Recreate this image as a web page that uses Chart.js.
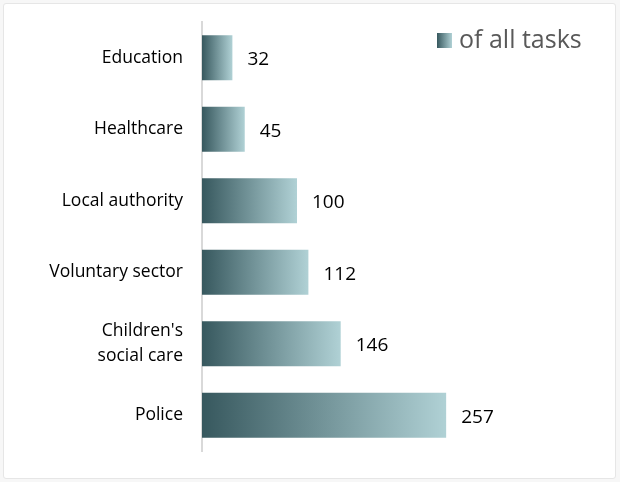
<!DOCTYPE html>
<html>
<head>
<meta charset="utf-8">
<script src="https://cdn.jsdelivr.net/npm/chart.js@4"></script>
<style>
  html, body { margin: 0; padding: 0; background: #f7f7f7; }
  .frame {
    position: absolute; left: 3px; top: 3px; width: 611px; height: 474px;
    background: #fff; border: 1px solid #e6e6e6; border-radius: 3px;
  }
  #chart { position: absolute; left: 0; top: 0; }
</style>
</head>
<body>
<div class="frame"></div>
<canvas id="chart" width="620" height="482"></canvas>
<script>
// categories and values
const categories = ['Education', 'Healthcare', 'Local authority', 'Voluntary sector', ["Children's", 'social care'], 'Police'];
const tasks = [32, 45, 100, 112, 146, 257];
const seriesName = 'of all tasks';

const darkTeal = '#37585e';
const lightTeal = '#b0d1d5';

const barGradient = (context) => {
  const chart = context.chart;
  const xScale = chart.scales.x;
  if (!xScale || !chart.chartArea) return darkTeal;
  const x0 = xScale.getPixelForValue(0);
  const x1 = xScale.getPixelForValue(context.raw);
  const g = chart.ctx.createLinearGradient(x0, 0, x1, 0);
  g.addColorStop(0, darkTeal);
  g.addColorStop(1, lightTeal);
  return g;
};

// value labels after each bar + the little legend in the corner
const extras = {
  id: 'extras',
  afterDatasetsDraw(chart) {
    const ctx = chart.ctx;
    const meta = chart.getDatasetMeta(0);
    ctx.save();
    ctx.font = '19px "Open Sans"';
    ctx.fillStyle = '#000';
    ctx.textBaseline = 'middle';
    meta.data.forEach((bar, i) => {
      ctx.fillText(String(tasks[i]), bar.x + 15, bar.y + 2);
    });

    // legend
    const lx = 437, ly = 33;
    const g = ctx.createLinearGradient(lx, 0, lx + 15, 0);
    g.addColorStop(0, darkTeal);
    g.addColorStop(1, lightTeal);
    ctx.fillStyle = g;
    ctx.fillRect(lx, ly, 15, 15);
    ctx.font = '25px "Open Sans"';
    ctx.fillStyle = '#595959';
    ctx.fillText(seriesName, lx + 22, ly + 8);
    ctx.restore();
  }
};

new Chart(document.getElementById('chart'), {
  type: 'bar',
  data: {
    labels: categories,
    datasets: [{
      label: seriesName,
      data: tasks,
      backgroundColor: barGradient,
      borderWidth: 0,
      categoryPercentage: 1,
      barPercentage: 0.63
    }]
  },
  options: {
    indexAxis: 'y',
    responsive: false,
    animation: false,
    layout: { padding: { left: 0, right: 133, top: 22, bottom: 31 } },
    plugins: {
      legend: { display: false },
      tooltip: { enabled: false }
    },
    scales: {
      x: {
        display: false,
        min: 0,
        max: 300
      },
      y: {
        afterFit(scale) {
          scale.width = 202;
          scale.paddingTop = 0;
          scale.paddingBottom = 0;
        },
        grid: { display: false, drawTicks: false },
        border: { display: true, color: '#d9d9d9', width: 2 },
        ticks: {
          color: '#000',
          padding: 19,
          font: { family: '"Open Sans"', size: 17.5, lineHeight: 1.4 }
        }
      }
    }
  },
  plugins: [extras]
});
</script>
</body>
</html>
